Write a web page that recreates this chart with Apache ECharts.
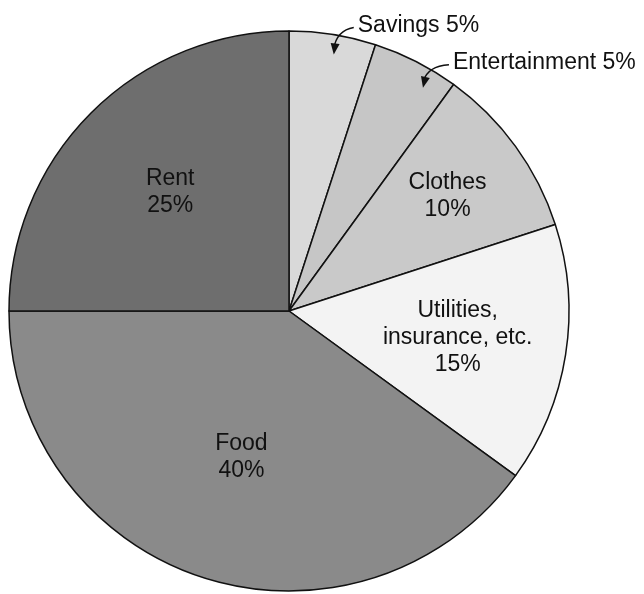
<!DOCTYPE html>
<html>
<head>
<meta charset="utf-8">
<script src="https://cdn.jsdelivr.net/npm/echarts@6/dist/echarts.min.js"></script>
<style>
	html, body { margin: 0; padding: 0; background: #fff; }
	#chart { width: 644px; height: 594px; }
</style>
</head>
<body>
<div id="chart"></div>
<script>
// data, clockwise from 12 o'clock
const categories = ["Savings", "Entertainment", "Clothes", "Utilities,\ninsurance, etc.", "Food", "Rent"]
const shares = [5, 5, 10, 15, 40, 25]
const fills = ["#d9d9d9", "#c6c6c6", "#c9c9c9", "#f3f3f3", "#8a8a8a", "#6e6e6e"]

const cx = 289, cy = 311, R = 280
// inside labels sit at r * R on the slice's mid angle,
// outside ones get a curved arrow (tip at fraction "at" of the slice)
// dx/dy = text start relative to the tip, qx/qy = curve control point
const labelSpot = [
	{ out: true, at: 0.55, dx: 24, dy: -29, qx: 3, qy: -24 },
	{ out: true, at: 0.72, dx: 30, dy: -25, qx: 5, qy: -22 },
	{ r: 0.7 },
	{ r: 0.61 },
	{ r: 0.55 },
	{ r: 0.6 },
]

const total = shares.reduce((a, b) => a + b, 0)
const angleAt = (i, f) => {
	let before = 0
	for (let k = 0; k < i; k++) before += shares[k]
	return ((before + shares[i] * f) / total) * 2 * Math.PI
}
const polar = (a, r) => [cx + r * Math.sin(a), cy - r * Math.cos(a)]
const tipPoint = (i) => polar(angleAt(i, labelSpot[i].at), 0.93 * R)

const arrowCurve = (i) => {
	const s = labelSpot[i]
	const tip = tipPoint(i)
	return {
		type: "bezierCurve",
		z: 100,
		shape: {
			x1: tip[0] + s.dx - 4, y1: tip[1] + s.dy + 2,
			cpx1: tip[0] + s.qx, cpy1: tip[1] + s.qy,
			x2: tip[0], y2: tip[1] - 6,
		},
		style: { stroke: "#111", lineWidth: 1.4, fill: null },
	}
}

const arrowHead = (i) => {
	const s = labelSpot[i]
	const tip = tipPoint(i)
	let ux = -s.qx, uy = -s.qy
	const len = Math.hypot(ux, uy)
	ux /= len
	uy /= len
	const bx = tip[0] - 11 * ux, by = tip[1] - 11 * uy
	return {
		type: "polygon",
		z: 101,
		shape: { points: [tip, [bx - 4.5 * uy, by + 4.5 * ux], [bx + 4.5 * uy, by - 4.5 * ux]] },
		style: { fill: "#111" },
	}
}

const arrows = []
labelSpot.forEach((s, i) => {
	if (s.out) arrows.push(arrowCurve(i), arrowHead(i))
})

const chart = echarts.init(document.getElementById("chart"))

chart.setOption({
	backgroundColor: "#fff",
	animation: false,
	series: [
		{
			type: "pie",
			center: [cx, cy],
			radius: R,
			startAngle: 90,
			clockwise: true,
			avoidLabelOverlap: false,
			emphasis: { disabled: true },
			itemStyle: { borderColor: "#111", borderWidth: 1.5 },
			label: {
				color: "#111",
				fontSize: 23,
				lineHeight: 27,
				fontFamily: "Liberation Sans, Arial, sans-serif",
				formatter: (p) => (labelSpot[p.dataIndex].out ? p.name + " " + p.value + "%" : p.name + "\n" + p.value + "%"),
			},
			labelLine: { show: false },
			labelLayout: (p) => {
				const i = p.dataIndex
				const s = labelSpot[i]
				if (s.out) {
					const tip = tipPoint(i)
					return { x: tip[0] + s.dx, y: tip[1] + s.dy, align: "left", verticalAlign: "middle" }
				}
				const c = polar(angleAt(i, 0.5), s.r * R)
				return { x: c[0], y: c[1], align: "center", verticalAlign: "middle" }
			},
			data: categories.map((name, i) => ({
				name: name,
				value: shares[i],
				itemStyle: { color: fills[i] },
				label: { position: labelSpot[i].out ? "outside" : "inside" },
			})),
		},
	],
	graphic: arrows,
})
</script>
</body>
</html>
